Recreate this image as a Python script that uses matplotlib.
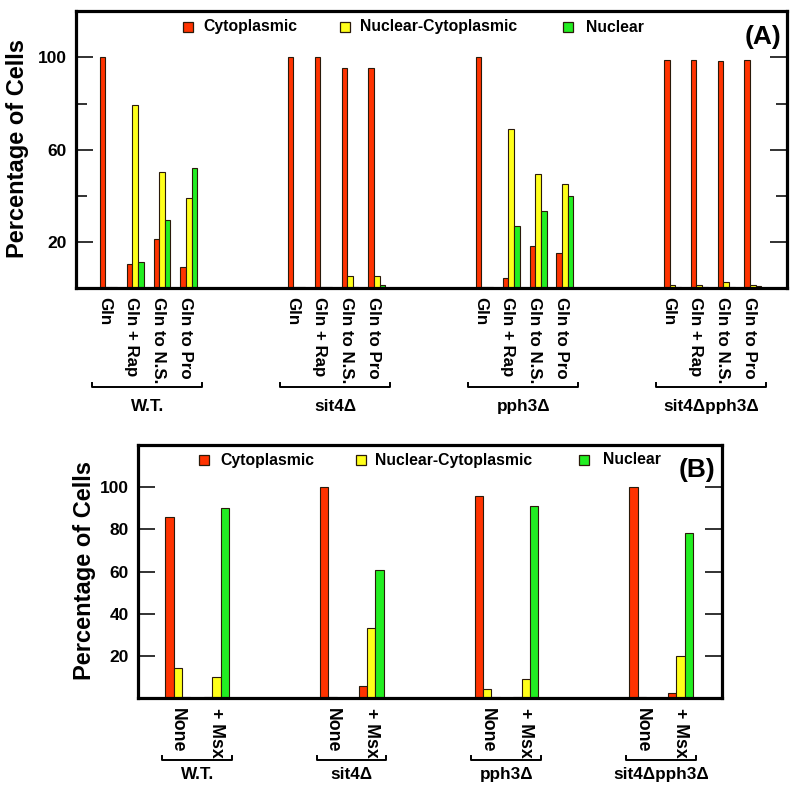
import matplotlib
matplotlib.use('Agg')
import matplotlib.pyplot as plt
import numpy as np
from matplotlib.patches import Rectangle
from matplotlib.ticker import FixedLocator

plt.rcParams['font.family'] = ['Liberation Sans', 'DejaVu Sans']
plt.rcParams['font.weight'] = 'bold'

# ---------------- data ----------------
strains = ['W.T.', 'sit4Δ', 'pph3Δ', 'sit4Δpph3Δ']
series = ['Cytoplasmic', 'Nuclear-Cytoplasmic', 'Nuclear']

conds_a = ['Gln', 'Gln + Rap', 'Gln to N.S.', 'Gln to Pro']
cyto_a = [100, 10.2, 21.2, 9.0, 100, 100, 95.2, 95.2, 100, 4.2, 18.3, 15.1, 98.8, 98.8, 98.3, 98.8]
nucyto_a = [0.5, 79.3, 50.4, 39.0, 0.5, 0.5, 5.2, 5.2, 0.5, 69.0, 49.5, 45.0, 1.5, 1.5, 2.5, 1.5]
nuc_a = [0.3, 11.2, 29.3, 52.1, 0.3, 0.3, 0.5, 1.5, 0.3, 27.1, 33.2, 40.1, 0.5, 0.5, 0.5, 0.7]

conds_b = ['None', '+ Msx']
cyto_b = [85.9, 0.8, 100, 5.6, 95.9, 0.5, 100, 2.5]
nucyto_b = [14.5, 10.2, 0.5, 33.2, 4.4, 9.1, 0.5, 20.1]
nuc_b = [0.5, 90.1, 0.3, 60.8, 0.5, 91.2, 0.3, 78.1]

yticks_a = [20, 60, 100]
yminor_a = [40, 80]
yticks_b = [20, 40, 60, 80, 100]

# ---------------- style ----------------
RED = '#FF3300'
YEL = '#FFFF1A'
GRN = '#22EE22'
EDGE = '#2a1a0a'
TICKC = '#222222'
colors = [RED, YEL, GRN]

W, H = 800, 792
fig = plt.figure(figsize=(W / 100, H / 100), dpi=100)


def fx(px):
    return px / W


def fy(py):
    return 1 - py / H


def panel(rect_px, conds, vals, gap, width, xlim, lab_off, lab_size, yt, ymin,
          tick_pad, br_lo, br_hi, br_y, glab_y, glab_off, tlen):
    l, t, r, b = rect_px
    ax = fig.add_axes([fx(l), fy(b), (r - l) / W, (b - t) / H])
    n = len(conds)
    pos = np.array([g * gap + i for g in range(len(strains)) for i in range(n)], dtype=float)
    for k, (v, c) in enumerate(zip(vals, colors)):
        ax.bar(pos + (k - 1) * width, v, width, color=c, edgecolor=EDGE, linewidth=0.8, zorder=2)
    ax.set_xlim(*xlim)
    ax.set_ylim(0, 120)
    ax.set_xticks(pos + lab_off)
    ax.set_xticklabels(conds * len(strains), rotation=270, fontsize=lab_size, fontweight='bold')
    ax.tick_params(axis='x', length=0, pad=tick_pad)
    ax.yaxis.set_major_locator(FixedLocator(yt))
    if ymin:
        ax.yaxis.set_minor_locator(FixedLocator(ymin))
    ax.tick_params(axis='y', which='major', direction='in', left=True, right=True,
                   width=1.3, color=TICKC, length=tlen, labelsize=12.5, pad=6.5)
    ax.tick_params(axis='y', which='minor', direction='in', left=True, right=True,
                   width=1.3, color=TICKC, length=8)
    for lab in ax.get_yticklabels():
        lab.set_fontweight('bold')
    for s in ax.spines.values():
        s.set_linewidth(2.3)
    tr = ax.get_xaxis_transform()
    for g, name in enumerate(strains):
        x0 = g * gap + br_lo
        x1 = g * gap + br_hi
        ax.plot([x0, x0, x1, x1], [br_y + 0.014, br_y, br_y, br_y + 0.014], transform=tr,
                clip_on=False, color='black', lw=1.4)
        ax.text(g * gap + glab_off, glab_y, name, transform=tr, ha='center', va='center',
                fontsize=12.3, fontweight='bold')
    return ax


axA = panel((75.5, 11.3, 786.5, 288), conds_a, [cyto_a, nucyto_a, nuc_a], 7, 0.21,
            (-1.22, 25.25), -0.12, 12.2, yticks_a, yminor_a, 6.5,
            -0.61, 3.5, -0.358, -0.43, 1.45, 12)
axB = panel((138, 444.7, 722, 698.3), conds_b, [cyto_b, nucyto_b, nuc_b], 4, 0.215,
            (-1.03, 14.07), 0.0, 12.8, yticks_b, None, 7.0,
            -0.41, 1.39, -0.243, -0.302, 0.5, 12.5)


def legend(items, y):
    for (sq, tx), lab, c in zip(items, series, colors):
        fig.add_artist(Rectangle((fx(sq), fy(y + 5)), 10 / W, 10 / H, transform=fig.transFigure,
                                 facecolor=c, edgecolor=EDGE, linewidth=0.9))
        fig.text(fx(tx), fy(y), lab, va='center', ha='left', fontsize=11.3, fontweight='bold')


legend([(183, 203), (340, 360), (563, 586)], 27)
legend([(199, 220), (356, 375), (579, 603)], 460)

fig.text(fx(763), fy(37), '(A)', ha='center', va='center', fontsize=19, fontweight='bold')
fig.text(fx(696.5), fy(470), '(B)', ha='center', va='center', fontsize=19, fontweight='bold')

fig.text(fx(18), fy(149), 'Percentage of Cells', rotation=90, ha='center', va='center',
         fontsize=17, fontweight='bold')
fig.text(fx(84), fy(571), 'Percentage of Cells', rotation=90, ha='center', va='center',
         fontsize=17, fontweight='bold')

fig.savefig('out.png', dpi=100)
